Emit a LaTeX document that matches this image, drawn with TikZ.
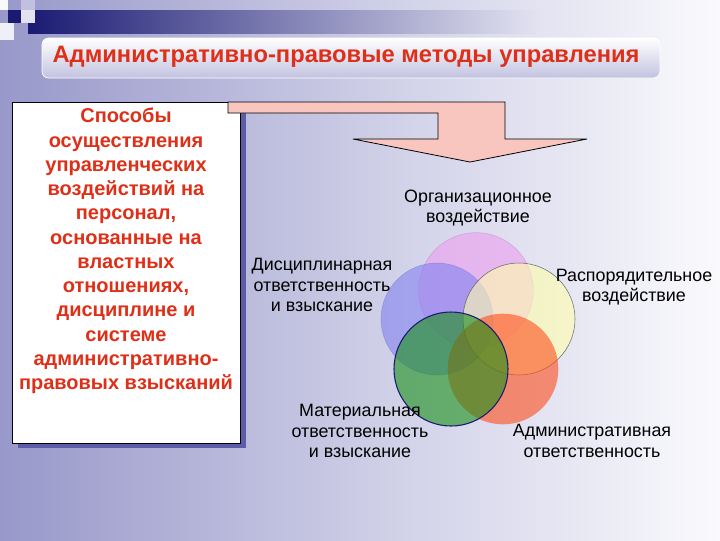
\documentclass[tikz,border=0pt]{standalone}
\usepackage{fontspec}
\setmainfont{Liberation Sans}
\definecolor{bgL}{HTML}{9898CA}
\definecolor{bgM}{HTML}{D4D4EA}
\definecolor{bgR}{HTML}{FAFAFD}
\definecolor{navy}{HTML}{1A1A72}
\definecolor{shadowblue}{HTML}{5C5CA8}
\definecolor{arrowpink}{HTML}{F8C6BE}
\definecolor{titlered}{HTML}{DE3018}
\definecolor{ctopc}{HTML}{ED9DF0}
\definecolor{cleftc}{HTML}{8282F0}
\definecolor{crightc}{HTML}{FFFFAD}
\definecolor{credc}{HTML}{FF4D1B}
\definecolor{cgreenc}{HTML}{189018}
\begin{document}
\begin{tikzpicture}[x=0.75pt,y=-0.75pt,
  titlebox/.style={rounded corners=5pt, minimum width=463.5pt, minimum height=30pt, inner sep=0pt,
     top color=white, bottom color=bgM!70!bgL, draw=white, line width=0.6pt},
  titletext/.style={font=\fontsize{17.8}{20}\selectfont\bfseries, text=titlered},
  leftbox/.style={draw=black, line width=0.6pt, fill=white, minimum width=171pt, minimum height=255.75pt, inner sep=0pt},
  boxshadow/.style={fill=shadowblue, minimum width=171pt, minimum height=255.75pt, inner sep=0pt},
  boxtext/.style={font=\fontsize{15}{18.2}\selectfont\bfseries, text=titlered, align=center, inner sep=0pt},
  lbl/.style={font=\fontsize{13.4}{15.4}\selectfont, text=black, align=center, inner sep=0pt},
  venn/.style={circle, inner sep=0pt, fill opacity=0.6},
  arrowshape/.style={fill=arrowpink, draw=black, line width=0.6pt, line join=miter}]
\useasboundingbox (0,0) rectangle (720,540);
% background
\shade[left color=bgL, right color=bgM] (0,0) rectangle (420,540);
\shade[left color=bgM, right color=bgR] (419.5,0) rectangle (720,540);
% top bar
\shade[left color=navy, right color=bgM!60!bgR, middle color=navy!45!bgM] (28,10) rectangle (540,33);
% corner squares
\fill[bgR] (0,0) rectangle (8,10);
\fill[bgL!60!white] (21,0) rectangle (35,10);
\fill[navy] (8,10) rectangle (21,23);
\fill[bgM!70!white] (21,10) rectangle (35,23);
\fill[white!85!bgL] (0,23) rectangle (14,40);
% title
\node[titlebox] (title) at (351,58) {};
\node[titletext] (titletxt) at (346,57) {Административно-правовые методы управления};
% left box
\node[boxshadow] (shadow) at (132,277.5) {};
\node[leftbox] (box) at (126,272.5) {};
\node[boxtext] (boxtxt) at (126,251) {Способы\\осуществления\\управленческих\\воздействий на\\персонал,\\основанные на\\властных\\отношениях,\\дисциплине и\\системе\\административно-\\правовых взысканий};
% arrow
\draw[arrowshape] (228,102) -- (505,102) -- (505,139) -- (587,139) -- (470,162) -- (353,139)
   -- (438,139) -- (438,113) -- (228,113) -- cycle;
% venn circles
\node[venn, fill=ctopc, draw=ctopc!80!black, draw opacity=0.5, line width=0.4pt, minimum size=86pt] (ctop) at (476,290) {};
\node[venn, fill=cleftc, draw=cleftc!80!black, draw opacity=0.4, line width=0.4pt, minimum size=84pt] (cleft) at (437,319) {};
\node[venn, fill=crightc, draw=black!70, draw opacity=0.8, line width=0.4pt, minimum size=84pt] (cright) at (519,319) {};
\node[venn, fill=credc, minimum size=83pt] (cred) at (503,369) {};
\node[venn, fill=cgreenc, draw=navy, draw opacity=1, line width=0.8pt, minimum size=85.5pt] (cgreen) at (451,369) {};
% labels
\node[lbl] (org) at (478,208) {Организационное\\воздействие};
\node[lbl] (disc) at (322,285) {Дисциплинарная\\ответственность\\и взыскание};
\node[lbl] (rasp) at (634,287) {Распорядительное\\воздействие};
\node[lbl] (mat) at (360,431) {Материальная\\ответственность\\и взыскание};
\node[lbl] (adm) at (592,441) {Административная\\ответственность};
\end{tikzpicture}
\end{document}
